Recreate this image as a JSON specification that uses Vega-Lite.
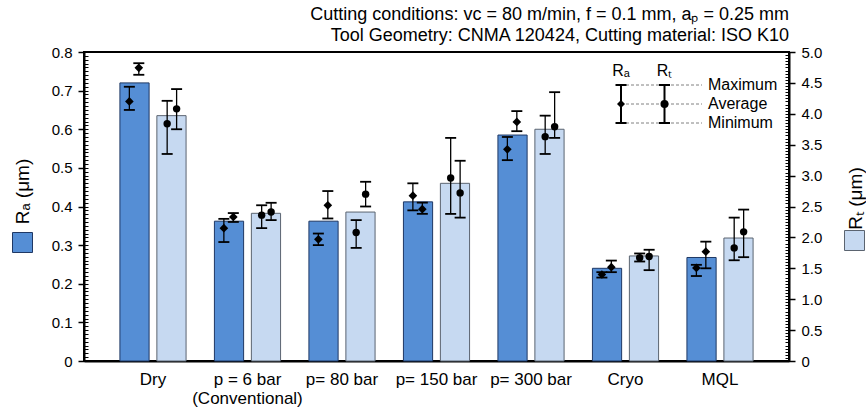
{
  "$schema": "https://vega.github.io/schema/vega-lite/v6.json",
  "width": 705,
  "height": 309,
  "autosize": {"type": "none"},
  "padding": {"left": 84, "top": 52, "right": 77, "bottom": 50},
  "config": {
    "font": "Liberation Sans",
    "view": {"stroke": "black", "strokeWidth": 2},
    "axis": {"labelColor": "black", "titleColor": "black", "tickColor": "black", "domainColor": "black", "grid": false, "labelFont": "Liberation Sans", "titleFont": "Liberation Sans"},
    "text": {"font": "Liberation Sans"}
  },
  "title": {
    "text": ["Cutting conditions: vc = 80 m/min, f = 0.1 mm, aₚ = 0.25 mm", "Tool Geometry: CNMA 120424, Cutting material: ISO K10"],
    "anchor": "end",
    "frame": "group",
    "fontSize": 18,
    "fontWeight": "normal",
    "color": "black",
    "lineHeight": 21,
    "offset": 0
  },
  "datasets": {
    "bars": [
      {"cond": "Dry", "series": "Ra", "value": 0.72},
      {"cond": "Dry", "series": "Rt", "value": 3.97},
      {"cond": "p = 6 bar\n(Conventional)", "series": "Ra", "value": 0.362},
      {"cond": "p = 6 bar\n(Conventional)", "series": "Rt", "value": 2.39},
      {"cond": "p= 80 bar", "series": "Ra", "value": 0.362},
      {"cond": "p= 80 bar", "series": "Rt", "value": 2.41},
      {"cond": "p= 150 bar", "series": "Ra", "value": 0.412},
      {"cond": "p= 150 bar", "series": "Rt", "value": 2.875},
      {"cond": "p= 300 bar", "series": "Ra", "value": 0.585},
      {"cond": "p= 300 bar", "series": "Rt", "value": 3.75},
      {"cond": "Cryo", "series": "Ra", "value": 0.24},
      {"cond": "Cryo", "series": "Rt", "value": 1.7},
      {"cond": "MQL", "series": "Ra", "value": 0.268},
      {"cond": "MQL", "series": "Rt", "value": 1.99}
    ],
    "reps": [
      {"cond": "Dry", "series": "Ra", "key": "Ra-1", "min": 0.65, "mean": 0.672, "max": 0.71},
      {"cond": "Dry", "series": "Ra", "key": "Ra-2", "min": 0.741, "mean": 0.759, "max": 0.771},
      {"cond": "Dry", "series": "Rt", "key": "Rt-1", "min": 3.35, "mean": 3.84, "max": 4.21},
      {"cond": "Dry", "series": "Rt", "key": "Rt-2", "min": 3.75, "mean": 4.08, "max": 4.4},
      {"cond": "p = 6 bar\n(Conventional)", "series": "Ra", "key": "Ra-1", "min": 0.308, "mean": 0.344, "max": 0.368},
      {"cond": "p = 6 bar\n(Conventional)", "series": "Ra", "key": "Ra-2", "min": 0.36, "mean": 0.373, "max": 0.383},
      {"cond": "p = 6 bar\n(Conventional)", "series": "Rt", "key": "Rt-1", "min": 2.15, "mean": 2.36, "max": 2.52},
      {"cond": "p = 6 bar\n(Conventional)", "series": "Rt", "key": "Rt-2", "min": 2.28, "mean": 2.41, "max": 2.56},
      {"cond": "p= 80 bar", "series": "Ra", "key": "Ra-1", "min": 0.3, "mean": 0.315, "max": 0.33},
      {"cond": "p= 80 bar", "series": "Ra", "key": "Ra-2", "min": 0.369, "mean": 0.403, "max": 0.44},
      {"cond": "p= 80 bar", "series": "Rt", "key": "Rt-1", "min": 1.83, "mean": 2.08, "max": 2.28},
      {"cond": "p= 80 bar", "series": "Rt", "key": "Rt-2", "min": 2.5, "mean": 2.7, "max": 2.9},
      {"cond": "p= 150 bar", "series": "Ra", "key": "Ra-1", "min": 0.39, "mean": 0.428, "max": 0.46},
      {"cond": "p= 150 bar", "series": "Ra", "key": "Ra-2", "min": 0.381, "mean": 0.393, "max": 0.41},
      {"cond": "p= 150 bar", "series": "Rt", "key": "Rt-1", "min": 2.38, "mean": 2.96, "max": 3.61},
      {"cond": "p= 150 bar", "series": "Rt", "key": "Rt-2", "min": 2.32, "mean": 2.72, "max": 3.24},
      {"cond": "p= 300 bar", "series": "Ra", "key": "Ra-1", "min": 0.52, "mean": 0.548, "max": 0.58},
      {"cond": "p= 300 bar", "series": "Ra", "key": "Ra-2", "min": 0.595, "mean": 0.619, "max": 0.647},
      {"cond": "p= 300 bar", "series": "Rt", "key": "Rt-1", "min": 3.35, "mean": 3.63, "max": 3.97},
      {"cond": "p= 300 bar", "series": "Rt", "key": "Rt-2", "min": 3.61, "mean": 3.79, "max": 4.35},
      {"cond": "Cryo", "series": "Ra", "key": "Ra-1", "min": 0.216, "mean": 0.224, "max": 0.23},
      {"cond": "Cryo", "series": "Ra", "key": "Ra-2", "min": 0.23, "mean": 0.243, "max": 0.26},
      {"cond": "Cryo", "series": "Rt", "key": "Rt-1", "min": 1.61, "mean": 1.67, "max": 1.74},
      {"cond": "Cryo", "series": "Rt", "key": "Rt-2", "min": 1.47, "mean": 1.69, "max": 1.8},
      {"cond": "MQL", "series": "Ra", "key": "Ra-1", "min": 0.22, "mean": 0.241, "max": 0.249},
      {"cond": "MQL", "series": "Ra", "key": "Ra-2", "min": 0.24, "mean": 0.283, "max": 0.309},
      {"cond": "MQL", "series": "Rt", "key": "Rt-1", "min": 1.63, "mean": 1.83, "max": 2.32},
      {"cond": "MQL", "series": "Rt", "key": "Rt-2", "min": 1.68, "mean": 2.09, "max": 2.45}
    ]
  },
  "layer": [
    {
      "encoding": {
        "x": {
          "field": "cond", "type": "nominal", "sort": null,
          "scale": {"domain": ["Dry", "p = 6 bar\n(Conventional)", "p= 80 bar", "p= 150 bar", "p= 300 bar", "Cryo", "MQL"], "paddingInner": 0.3, "paddingOuter": 0.38},
          "axis": {"title": null, "ticks": false, "labelAngle": 0, "labelFontSize": 17, "labelPadding": 10, "labelLineHeight": 19, "labelExpr": "split(datum.label, '\\n')", "domainWidth": 2}
        }
      },
      "layer": [
        {
          "data": {"name": "bars"},
          "transform": [{"filter": "datum.series == 'Ra'"}],
          "mark": {"type": "bar", "stroke": "#1f3864", "strokeWidth": 1},
          "encoding": {
            "y": {"field": "value", "type": "quantitative", "scale": {"domain": [0, 0.8], "nice": false},
              "axis": {"orient": "left", "values": [0, 0.1, 0.2, 0.3, 0.4, 0.5, 0.6, 0.7, 0.8], "labelExpr": "datum.value == 0 ? '0' : format(datum.value, '.1f')", "labelFontSize": 15, "labelPadding": 6, "tickSize": 6, "tickWidth": 1.5, "domainWidth": 2,
                "title": "Rₐ (μm)", "titleFontSize": 19, "titleFontWeight": "normal", "titleX": -62, "titleY": 139, "titleAngle": 270, "titleAlign": "center", "titleBaseline": "middle"}},
            "xOffset": {"field": "series", "scale": {"domain": ["Ra", "Rt"], "paddingInner": 0.21, "paddingOuter": 0}},
            "fill": {"field": "series", "type": "nominal", "scale": {"domain": ["Ra"], "range": ["#558ED5"]},
              "legend": {"orient": "none", "legendX": -72, "legendY": 180, "title": null, "labelExpr": "''", "symbolType": "square", "symbolSize": 400, "symbolStrokeColor": "#1f3864", "symbolStrokeWidth": 1, "padding": 0, "symbolOffset": 0}}
          }
        },
        {
          "data": {"name": "bars"},
          "transform": [{"filter": "datum.series == 'Rt'"}],
          "mark": {"type": "bar", "stroke": "#5b6470", "strokeWidth": 1},
          "encoding": {
            "y": {"field": "value", "type": "quantitative", "scale": {"domain": [0, 5], "nice": false},
              "axis": {"orient": "right", "values": [0, 0.5, 1, 1.5, 2, 2.5, 3, 3.5, 4, 4.5, 5], "labelExpr": "datum.value == 0 ? '0' : format(datum.value, '.1f')", "labelFontSize": 15, "labelPadding": 6, "tickSize": 6, "tickWidth": 1.5, "domainWidth": 2,
                "title": "Rₜ (μm)", "titleFontSize": 19, "titleFontWeight": "normal", "titleX": 66, "titleY": 146, "titleAngle": 270, "titleAlign": "center", "titleBaseline": "middle"}},
            "xOffset": {"field": "series", "scale": {"domain": ["Ra", "Rt"], "paddingInner": 0.21, "paddingOuter": 0}},
            "fill": {"field": "series", "type": "nominal", "scale": {"domain": ["Rt"], "range": ["#C6D9F1"]},
              "legend": {"orient": "none", "legendX": 760, "legendY": 178, "title": null, "labelExpr": "''", "symbolType": "square", "symbolSize": 400, "symbolStrokeColor": "#5b6470", "symbolStrokeWidth": 1, "padding": 0, "symbolOffset": 0}}
          }
        },
        {
          "data": {"name": "reps"},
          "transform": [{"filter": "datum.series == 'Ra'"}],
          "mark": {"type": "rule", "color": "black", "strokeWidth": 1.3},
          "encoding": {
            "y": {"field": "min", "type": "quantitative", "scale": {"domain": [0, 0.8], "nice": false},
              "axis": {"orient": "left", "tickCount": 80, "labels": false, "domain": false, "tickSize": -4, "tickWidth": 1, "title": null}},
            "y2": {"field": "max"},
            "xOffset": {"field": "key", "scale": {"type": "point", "domain": ["Ra-1", "Ra-2", "g1", "g2", "Rt-1", "Rt-2"], "padding": 1.17}}
          }
        },
        {
          "data": {"name": "reps"},
          "transform": [{"filter": "datum.series == 'Ra'"}, {"fold": ["min", "max"], "as": ["stat", "v"]}],
          "mark": {"type": "tick", "orient": "horizontal", "size": 11, "thickness": 1.8, "color": "black", "opacity": 1},
          "encoding": {
            "y": {"field": "v", "type": "quantitative", "scale": {"domain": [0, 0.8], "nice": false}, "axis": null},
            "xOffset": {"field": "key", "scale": {"type": "point", "domain": ["Ra-1", "Ra-2", "g1", "g2", "Rt-1", "Rt-2"], "padding": 1.17}}
          }
        },
        {
          "data": {"name": "reps"},
          "transform": [{"filter": "datum.series == 'Ra'"}],
          "mark": {"type": "point", "shape": "diamond", "filled": true, "color": "black", "size": 75, "opacity": 1},
          "encoding": {
            "y": {"field": "mean", "type": "quantitative", "scale": {"domain": [0, 0.8], "nice": false}, "axis": null},
            "xOffset": {"field": "key", "scale": {"type": "point", "domain": ["Ra-1", "Ra-2", "g1", "g2", "Rt-1", "Rt-2"], "padding": 1.17}}
          }
        },
        {
          "data": {"name": "reps"},
          "transform": [{"filter": "datum.series == 'Rt'"}],
          "mark": {"type": "rule", "color": "black", "strokeWidth": 1.3},
          "encoding": {
            "y": {"field": "min", "type": "quantitative", "scale": {"domain": [0, 5], "nice": false},
              "axis": {"orient": "right", "tickCount": 100, "labels": false, "domain": false, "tickSize": -4, "tickWidth": 1, "title": null}},
            "y2": {"field": "max"},
            "xOffset": {"field": "key", "scale": {"type": "point", "domain": ["Ra-1", "Ra-2", "g1", "g2", "Rt-1", "Rt-2"], "padding": 1.17}}
          }
        },
        {
          "data": {"name": "reps"},
          "transform": [{"filter": "datum.series == 'Rt'"}, {"fold": ["min", "max"], "as": ["stat", "v"]}],
          "mark": {"type": "tick", "orient": "horizontal", "size": 11, "thickness": 1.8, "color": "black", "opacity": 1},
          "encoding": {
            "y": {"field": "v", "type": "quantitative", "scale": {"domain": [0, 5], "nice": false}, "axis": null},
            "xOffset": {"field": "key", "scale": {"type": "point", "domain": ["Ra-1", "Ra-2", "g1", "g2", "Rt-1", "Rt-2"], "padding": 1.17}}
          }
        },
        {
          "data": {"name": "reps"},
          "transform": [{"filter": "datum.series == 'Rt'"}],
          "mark": {"type": "point", "shape": "circle", "filled": true, "color": "black", "size": 55, "opacity": 1},
          "encoding": {
            "y": {"field": "mean", "type": "quantitative", "scale": {"domain": [0, 5], "nice": false}, "axis": null},
            "xOffset": {"field": "key", "scale": {"type": "point", "domain": ["Ra-1", "Ra-2", "g1", "g2", "Rt-1", "Rt-2"], "padding": 1.17}}
          }
        }
      ],
      "resolve": {"scale": {"y": "independent", "xOffset": "independent", "fill": "independent"}}
    },
    {
      "encoding": {
        "x": {"field": "kx", "type": "nominal", "scale": {"type": "point", "domain": ["Ra", "Rt", "label"], "range": [537, 624], "padding": 0}, "axis": null},
        "y": {"field": "ky", "type": "nominal", "scale": {"type": "point", "domain": ["head", "Maximum", "Average", "Minimum"], "range": [14, 71], "padding": 0}, "axis": null}
      },
      "layer": [
        {
          "data": {"values": [
            {"kx": "Ra", "kx2": "label", "ky": "Maximum"},
            {"kx": "Ra", "kx2": "label", "ky": "Average"},
            {"kx": "Ra", "kx2": "label", "ky": "Minimum"}
          ]},
          "mark": {"type": "rule", "stroke": "#808080", "strokeWidth": 1, "strokeDash": [3, 2], "x2Offset": -6},
          "encoding": {"x2": {"field": "kx2"}}
        },
        {
          "data": {"values": [
            {"kx": "Ra", "ky": "Maximum", "ky2": "Minimum"},
            {"kx": "Rt", "ky": "Maximum", "ky2": "Minimum"}
          ]},
          "mark": {"type": "rule", "color": "black", "strokeWidth": 2},
          "encoding": {"y2": {"field": "ky2"}}
        },
        {
          "data": {"values": [
            {"kx": "Ra", "ky": "Maximum"}, {"kx": "Ra", "ky": "Minimum"},
            {"kx": "Rt", "ky": "Maximum"}, {"kx": "Rt", "ky": "Minimum"}
          ]},
          "mark": {"type": "tick", "orient": "horizontal", "size": 11, "thickness": 2, "color": "black", "opacity": 1}
        },
        {
          "data": {"values": [
            {"kx": "Ra", "ky": "Average"},
            {"kx": "Rt", "ky": "Average"}
          ]},
          "mark": {"type": "point", "filled": true, "color": "black", "size": 65, "opacity": 1},
          "encoding": {"shape": {"field": "kx", "type": "nominal", "scale": {"domain": ["Ra", "Rt"], "range": ["diamond", "circle"]}, "legend": null}}
        },
        {
          "data": {"values": [
            {"kx": "label", "ky": "Maximum", "t": "Maximum"},
            {"kx": "label", "ky": "Average", "t": "Average"},
            {"kx": "label", "ky": "Minimum", "t": "Minimum"}
          ]},
          "mark": {"type": "text", "align": "left", "baseline": "middle", "fontSize": 16, "color": "black"},
          "encoding": {"text": {"field": "t"}}
        },
        {
          "data": {"values": [
            {"kx": "Ra", "ky": "head", "t": "Rₐ"},
            {"kx": "Rt", "ky": "head", "t": "Rₜ"}
          ]},
          "mark": {"type": "text", "align": "center", "baseline": "middle", "fontSize": 16, "color": "black", "yOffset": 5},
          "encoding": {"text": {"field": "t"}}
        }
      ]
    }
  ],
  "resolve": {"scale": {"x": "independent", "y": "independent"}}
}
